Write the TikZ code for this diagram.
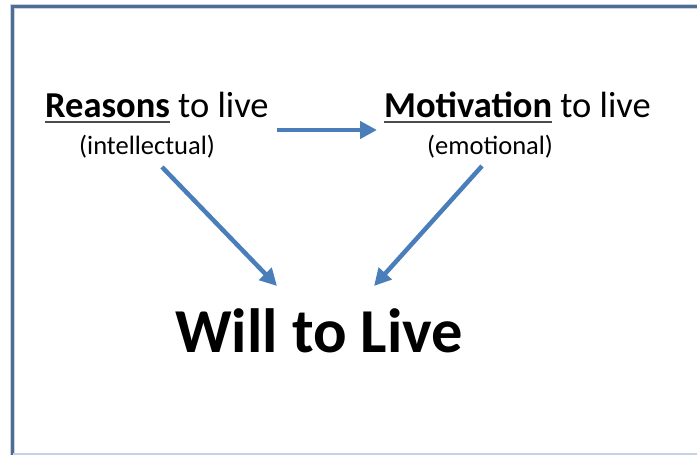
\documentclass[tikz,border=0pt]{standalone}
\usepackage{fontspec}
\setmainfont{Carlito}
\usetikzlibrary{arrows.meta}
\definecolor{framecol}{HTML}{4F6C95}
\definecolor{framehalo}{HTML}{C8D3E2}
\definecolor{arrowcol}{HTML}{4A7EBB}
\newsavebox\ulbox
\newcommand\ulword[1]{\sbox\ulbox{#1}\rlap{\color{black!70}\rule[-6pt]{\wd\ulbox}{2.5pt}}\usebox\ulbox}
\tikzset{
  lbl/.style={inner sep=0pt, anchor=base west, text=black},
  mainlbl/.style={lbl, font=\fontsize{36.5}{40}\selectfont},
  sublbl/.style={lbl, font=\fontsize{26.5}{30}\selectfont},
  biglbl/.style={lbl, font=\bfseries\fontsize{62.5}{70}\selectfont},
  arr/.style={draw=arrowcol, line width=4.5pt, -{Triangle[length=17pt,width=17pt]}},
}
\begin{document}
\begin{tikzpicture}[x=1pt,y=-1pt]
\useasboundingbox (0,0) rectangle (697,455);
% frame (left and top edges visible, bottom faint)
\draw[framehalo, line width=5pt] (12.5,455) -- (12.5,6.5) -- (697,6.5);
\draw[framecol, line width=2.5pt] (12.5,455) -- (12.5,6.5) -- (697,6.5);
\draw[framehalo, line width=1.5pt] (12.5,454) -- (697,454);
% labels
\node[mainlbl] (reasons) at (45,117) {\ulword{\textbf{Reasons}} to live};
\node[sublbl] (intel) at (79,154) {(intellectual)};
\node[mainlbl] (motiv) at (384,117) {\ulword{\textbf{Motivation}} to live};
\node[sublbl] (emot) at (427,154) {(emotional)};
\node[biglbl] (will) at (175,352) {Will to Live};
% arrow end points
\coordinate (hA) at (277,130);
\coordinate (hB) at (377,130);
\coordinate (lA) at (162,167);
\coordinate (lB) at (277,286);
\coordinate (rA) at (482,166);
\coordinate (rB) at (374,286);
\draw[arr] (hA) -- (hB);
\draw[arr] (lA) -- (lB);
\draw[arr] (rA) -- (rB);
\end{tikzpicture}
\end{document}
